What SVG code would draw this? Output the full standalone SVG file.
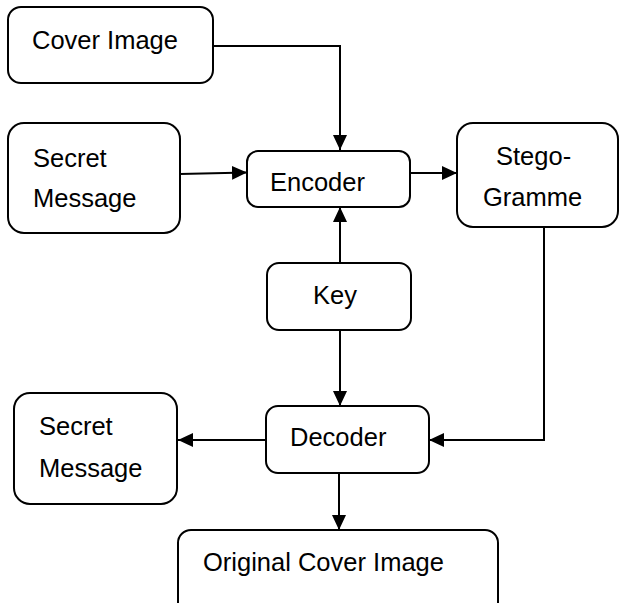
<svg xmlns="http://www.w3.org/2000/svg" width="622" height="603" viewBox="0 0 622 603">
  <defs>
    <marker id="arrow" markerUnits="userSpaceOnUse" markerWidth="16" markerHeight="14" refX="15" refY="7" orient="auto">
      <path d="M0,0 L15,7 L0,14 Z" fill="#000"/>
    </marker>
    <style>
      .box { fill: #fff; stroke: #000; stroke-width: 2; }
      .lbl { font-family: "Liberation Sans", Arial, sans-serif; font-size: 25.5px; fill: #000; }
      .conn { fill: none; stroke: #000; stroke-width: 2; }
    </style>
  </defs>
  <rect width="622" height="603" fill="#fff"/>

  <g id="connectors">
    <polyline class="conn" points="213,46 340,46 340,150" marker-end="url(#arrow)" stroke-width="1.5"/>
    <line class="conn" x1="180" y1="174" x2="247" y2="172.5" marker-end="url(#arrow)"/>
    <line class="conn" x1="410" y1="173" x2="457" y2="173" marker-end="url(#arrow)"/>
    <line class="conn" x1="340" y1="263" x2="340" y2="207" marker-end="url(#arrow)"/>
    <line class="conn" x1="340" y1="330" x2="340" y2="406" marker-end="url(#arrow)"/>
    <polyline class="conn" points="544,227 544,440 429,440" marker-end="url(#arrow)"/>
    <line class="conn" x1="266" y1="440" x2="178" y2="440" marker-end="url(#arrow)"/>
    <line class="conn" x1="339" y1="473" x2="339" y2="530" marker-end="url(#arrow)"/>
  </g>

  <g id="cover-image">
    <rect class="box" x="8" y="7" width="205" height="76" rx="13"/>
    <text class="lbl" x="32" y="49">Cover Image</text>
  </g>

  <g id="secret-message-in">
    <rect class="box" x="8" y="123" width="172" height="110" rx="16"/>
    <text class="lbl" x="33" y="167">Secret</text>
    <text class="lbl" x="33" y="207">Message</text>
  </g>

  <g id="encoder">
    <rect class="box" x="247" y="151" width="163" height="56" rx="11"/>
    <text class="lbl" x="270" y="191">Encoder</text>
  </g>

  <g id="stegogramme">
    <rect class="box" x="457" y="123" width="161" height="104" rx="16"/>
    <text class="lbl" x="496" y="165">Stego-</text>
    <text class="lbl" x="483" y="206">Gramme</text>
  </g>

  <g id="key">
    <rect class="box" x="267" y="263" width="144" height="67" rx="12"/>
    <text class="lbl" x="313" y="304">Key</text>
  </g>

  <g id="decoder">
    <rect class="box" x="266" y="406" width="163" height="67" rx="12"/>
    <text class="lbl" x="290" y="446">Decoder</text>
  </g>

  <g id="secret-message-out">
    <rect class="box" x="14" y="393" width="163" height="111" rx="16"/>
    <text class="lbl" x="39" y="435">Secret</text>
    <text class="lbl" x="39" y="477">Message</text>
  </g>

  <g id="original-cover-image">
    <rect class="box" x="178" y="530" width="320" height="90" rx="13"/>
    <text class="lbl" x="203" y="571">Original Cover Image</text>
  </g>
</svg>
